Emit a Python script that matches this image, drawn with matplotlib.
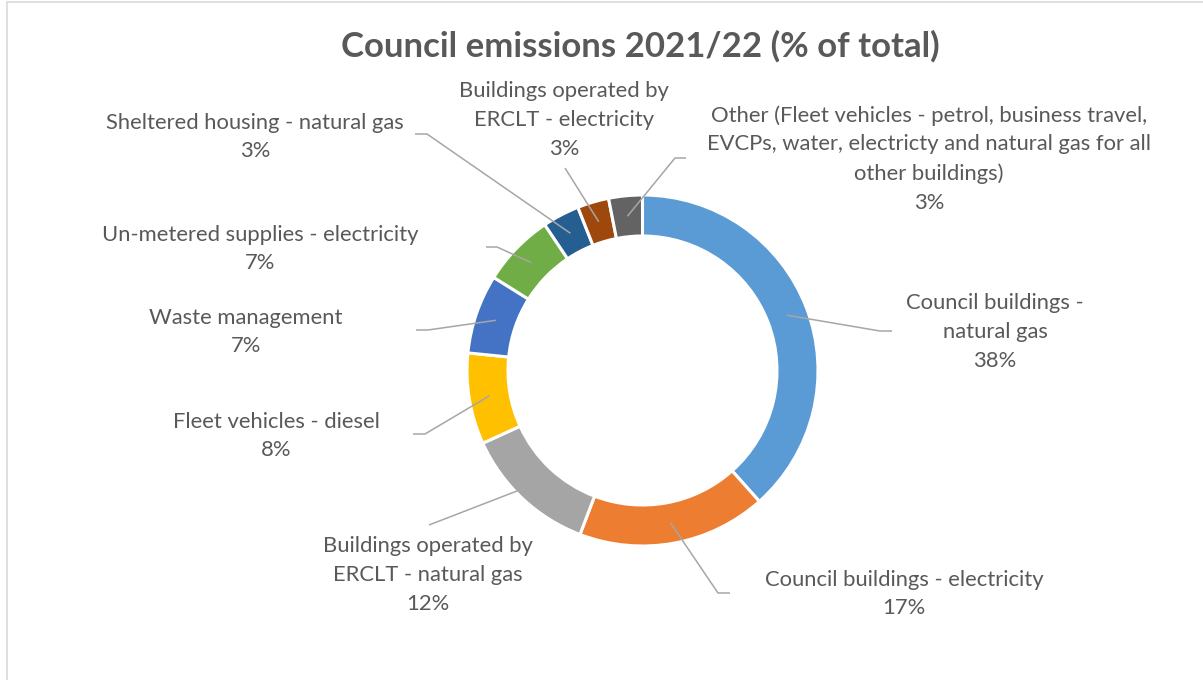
import numpy as np
import matplotlib.pyplot as plt
from matplotlib.patches import Rectangle

# share of council emissions 2021/22, clockwise from 12 o'clock
categories = [
    'Council buildings -\nnatural gas',
    'Council buildings - electricity',
    'Buildings operated by\nERCLT - natural gas',
    'Fleet vehicles - diesel',
    'Waste management',
    'Un-metered supplies - electricity',
    'Sheltered housing - natural gas',
    'Buildings operated by\nERCLT - electricity',
    'Other (Fleet vehicles - petrol, business travel,\n'
    'EVCPs, water, electricty and natural gas for all\nother buildings)',
]
shares = [38.4, 17.4, 12.4, 8.4, 7.3, 6.7, 3.4, 2.9, 3.1]
colors = ['#5B9BD5', '#ED7D31', '#A5A5A5', '#FFC000', '#4472C4',
          '#70AD47', '#255E91', '#9E480E', '#636363']

W, H = 1203, 680


def px(x, y):
    # pixel position measured from the top-left corner -> data coords
    return x, H - y


# label block centres and leader line elbow / end points (pixels)
label_pos = [(995, 332), (904, 594), (428, 575), (276, 436), (246, 332),
             (260, 249), (255, 137), (564, 120), (929, 159)]
elbows = [(880, 331), (718, 593), (429, 525), (425, 434), (428, 330),
          (497, 247), (427, 134), (565, 168), (675, 158)]
ends = [(892, 331), (730, 593), (429, 525), (413, 434), (416, 330),
        (486, 247), (415, 134), (565, 168), (686, 158)]

text_color = '#595959'
line_color = '#A6A6A6'
font = 'Lato'

fig = plt.figure(figsize=(W / 100, H / 100), dpi=100)
ax = fig.add_axes([0, 0, 1, 1])

cx, cy = px(642.5, 370.5)
r_out, r_in = 175.5, 134.5
wedges, _ = ax.pie(shares, colors=colors, startangle=90, counterclock=False,
                   center=(cx, cy), radius=r_out,
                   wedgeprops=dict(width=r_out - r_in, edgecolor='white',
                                   linewidth=2.2))

r_mid = (r_out + r_in) / 2
for i, w in enumerate(wedges):
    theta = np.deg2rad((w.theta1 + w.theta2) / 2)
    sx, sy = cx + r_mid * np.cos(theta), cy + r_mid * np.sin(theta)
    ex, ey = px(*elbows[i])
    fx, fy = px(*ends[i])
    ax.plot([sx, ex, fx], [sy, ey, fy], color=line_color, lw=1.1,
            solid_capstyle='butt', zorder=3)
    tx, ty = px(*label_pos[i])
    ax.text(tx, ty, f'{categories[i]}\n{round(shares[i])}%', ha='center',
            va='center', multialignment='center', fontsize=15.8,
            family=font, color=text_color, linespacing=1.55)

tx, ty = px(640, 46)
ax.text(tx, ty, 'Council emissions 2021/22 (% of total)', ha='center',
        va='center', fontsize=25, fontweight='bold', family=font,
        color=text_color)

# chart area border
ax.add_patch(Rectangle((6.5, -10), W + 20, H - 2 + 10, fill=False,
                       edgecolor='#D9D9D9', lw=1.2))

ax.set_xlim(0, W)
ax.set_ylim(0, H)
ax.set_aspect('equal')
ax.axis('off')

fig.savefig('out.png', dpi=100)
